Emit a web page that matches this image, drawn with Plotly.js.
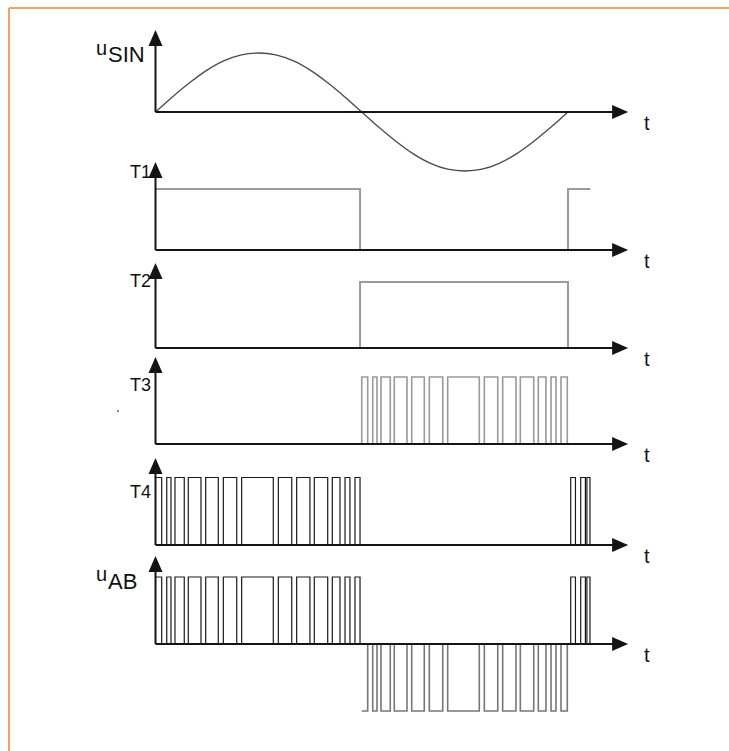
<!DOCTYPE html>
<html><head><meta charset="utf-8">
<script src="https://cdn.plot.ly/plotly-3.0.1.min.js"></script>
<style>html,body{margin:0;padding:0;background:#fff;}#chart{width:729px;height:751px;}</style>
</head><body><div id="chart"></div>
<script>
// ---------- data (angle in degrees of the sine period, levels in units) ----------
const panelNames = ['uSIN', 'T1', 'T2', 'T3', 'T4', 'uAB'];
const timeLabel = 't';

const sineDeg = [0,15,30,45,60,75,90,105,120,135,150,165,180,195,210,225,240,255,270,285,300,315,330,345,360];
const sineVal = [0,0.26,0.5,0.71,0.87,0.97,1,0.97,0.87,0.71,0.5,0.26,0,-0.26,-0.5,-0.71,-0.87,-0.97,-1,-0.97,-0.87,-0.71,-0.5,-0.26,0];

const t1Deg = [0, 178.5, 360, 379.5];
const t1Lvl = [1, 0, 1, 1];

const t2Deg = [0, 178.5, 360, 379.5];
const t2Lvl = [0, 1, 0, 0];

const t3Deg = [0, 180, 185.2, 189.6, 193.3, 196.8, 204.9, 208.4, 219.5, 223.6, 234.6, 239.0, 250.7, 255.0,
               282.6, 287.0, 298.7, 303.0, 314.6, 318.4, 330.1, 334.1, 340.8, 345.2, 349.5, 353.9, 359.4, 379.5];
const t3Lvl = [0, 1, 0, 1, 0, 1, 0, 1, 0, 1, 0, 1, 0, 1, 0, 1, 0, 1, 0, 1, 0, 1, 0, 1, 0, 1, 0, 0];

const t4Deg = [0, 5.4, 9.8, 13.5, 17.0, 25.1, 28.6, 39.7, 43.8, 54.8, 59.2, 70.9, 75.2, 102.8, 107.2,
               118.9, 123.2, 134.8, 138.6, 150.3, 154.3, 161.0, 165.4, 169.7, 174.1, 178.5,
               362.4, 366.5, 371.1, 375.2, 376.5, 379.2];
const t4Lvl = [1, 0, 1, 0, 1, 0, 1, 0, 1, 0, 1, 0, 1, 0, 1, 0, 1, 0, 1, 0, 1, 0, 1, 0, 1, 0,
               1, 0, 1, 0, 1, 0];

const uabPosDeg = [0, 5.4, 9.8, 13.5, 17.0, 25.1, 28.6, 39.7, 43.8, 54.8, 59.2, 70.9, 75.2, 102.8, 107.2,
                   118.9, 123.2, 134.8, 138.6, 150.3, 154.3, 161.0, 165.4, 169.7, 174.1, 178.5,
                   362.4, 366.5, 371.1, 375.2, 376.5, 379.2];
const uabPosLvl = [1, 0, 1, 0, 1, 0, 1, 0, 1, 0, 1, 0, 1, 0, 1, 0, 1, 0, 1, 0, 1, 0, 1, 0, 1, 0,
                   1, 0, 1, 0, 1, 0];
const uabNegDeg = [180, 185.2, 189.6, 193.3, 196.8, 204.9, 208.4, 219.5, 223.6, 234.6, 239.0, 250.7, 255.0,
                   282.6, 287.0, 298.7, 303.0, 314.6, 318.4, 330.1, 334.1, 340.8, 345.2, 349.5, 353.9, 359.4];
const uabNegLvl = [-1, 0, -1, 0, -1, 0, -1, 0, -1, 0, -1, 0, -1, 0, -1, 0, -1, 0, -1, 0, -1, 0, -1, 0, -1, 0];

// ---------- geometry ----------
const W = 729, H = 751;
const X0 = 155.5, K = 1.1458;          // origin pixel and pixels per degree
const AXIS_END = 412.5;                // degrees where time axes end (arrow tip)
const panels = [                       // baseline pixel, pixels per level unit, y-arrow tip pixel
  {pb: 112, u: 59, tip: 30},
  {pb: 250, u: 61, tip: 162},
  {pb: 348, u: 66, tip: 263},
  {pb: 444, u: 67, tip: 357},
  {pb: 545, u: 67.5, tip: 458},
  {pb: 644, u: 67, tip: 556}
];
const px = p => p / W, py = p => 1 - p / H;

const layout = {
  width: W, height: H,
  margin: {l: 0, r: 0, t: 0, b: 0},
  paper_bgcolor: '#fff', plot_bgcolor: 'rgba(0,0,0,0)',
  showlegend: false,
  xaxis: {range: [-X0 / K, (W - X0) / K], visible: false, fixedrange: true},
  shapes: [], annotations: []
};
panels.forEach((p, i) => {
  const key = i === 0 ? 'yaxis' : 'yaxis' + (i + 1);
  layout[key] = {range: [(p.pb - H) / p.u, p.pb / p.u], domain: [0, 1], visible: false, fixedrange: true};
  if (i > 0) layout[key].overlaying = 'y';
});
const yref = i => i === 0 ? 'y' : 'y' + (i + 1);

const AX = '#141414';
panels.forEach((p, i) => {
  const yr = yref(i);
  const tipLvl = (p.pb - p.tip) / p.u;
  layout.shapes.push({type: 'line', xref: 'x', yref: yr, x0: 0, x1: 0, y0: 0, y1: tipLvl - 8 / p.u,
    line: {color: AX, width: 2}});
  layout.shapes.push({type: 'path', xref: 'x', yref: yr, xsizemode: 'pixel', ysizemode: 'pixel',
    xanchor: 0, yanchor: tipLvl, path: 'M0,0 L-7,-16 L7,-16 Z', fillcolor: AX, line: {width: 0}});
  layout.shapes.push({type: 'line', xref: 'x', yref: yr, x0: 0, x1: AXIS_END - 8 / K, y0: 0, y1: 0,
    line: {color: AX, width: 2}});
  layout.shapes.push({type: 'path', xref: 'x', yref: yr, xsizemode: 'pixel', ysizemode: 'pixel',
    xanchor: AXIS_END, yanchor: 0, path: 'M0,0 L-16,7 L-16,-7 Z', fillcolor: AX, line: {width: 0}});
  layout.annotations.push({xref: 'paper', yref: 'paper', x: px(642), y: py(p.pb + 11), xanchor: 'left', yanchor: 'middle',
    text: timeLabel, showarrow: false, font: {family: 'Liberation Sans, Arial', size: 20, color: '#111'}});
});

// panel labels
const lblFont = (s) => ({family: 'Liberation Sans, Arial', size: s, color: '#111'});
const addU = (yCenterU, yCenterSub, sub) => {
  layout.annotations.push({xref: 'paper', yref: 'paper', x: px(109), y: py(yCenterU), xanchor: 'right', yanchor: 'middle',
    text: 'u', showarrow: false, font: lblFont(20)});
  layout.annotations.push({xref: 'paper', yref: 'paper', x: px(106), y: py(yCenterSub), xanchor: 'left', yanchor: 'middle',
    text: sub, showarrow: false, font: lblFont(22)});
};
addU(48, 55, 'SIN');
[[1, 172], [2, 281], [3, 385], [4, 492]].forEach(([i, y]) => {
  layout.annotations.push({xref: 'paper', yref: 'paper', x: px(153), y: py(y), xanchor: 'right', yanchor: 'middle',
    text: panelNames[i], showarrow: false, font: lblFont(18)});
});
addU(574, 581, 'AB');

// orange frame and stray dot
layout.shapes.push({type: 'line', xref: 'paper', yref: 'paper', x0: px(9), x1: 1, y0: py(8), y1: py(8), line: {color: '#f7a25e', width: 2}});
layout.shapes.push({type: 'line', xref: 'paper', yref: 'paper', x0: px(9), x1: px(9), y0: py(8), y1: 0, line: {color: '#f7a25e', width: 2}});
layout.shapes.push({type: 'circle', xref: 'paper', yref: 'paper', x0: px(117), x1: px(119), y0: py(410), y1: py(412), fillcolor: '#666', line: {width: 0}});

const step = (x, y, yr, color, width) => ({x, y, xaxis: 'x', yaxis: yr, mode: 'lines', type: 'scatter',
  line: {shape: 'hv', color, width}, hoverinfo: 'skip'});

const data = [
  {x: sineDeg, y: sineVal, xaxis: 'x', yaxis: 'y', mode: 'lines', type: 'scatter',
   line: {shape: 'spline', color: '#4a4a4a', width: 1.3}, hoverinfo: 'skip'},
  step(t1Deg, t1Lvl, 'y2', '#9a9a9a', 2),
  step(t2Deg, t2Lvl, 'y3', '#9a9a9a', 2),
  step(t3Deg, t3Lvl, 'y4', '#999999', 1.6),
  step(t4Deg, t4Lvl, 'y5', '#1a1a1a', 1.2),
  step(uabNegDeg, uabNegLvl, 'y6', '#777777', 1.6),
  step(uabPosDeg, uabPosLvl, 'y6', '#1a1a1a', 1.2)
];

Plotly.newPlot('chart', data, layout, {staticPlot: true, displayModeBar: false});
</script>
</body></html>
